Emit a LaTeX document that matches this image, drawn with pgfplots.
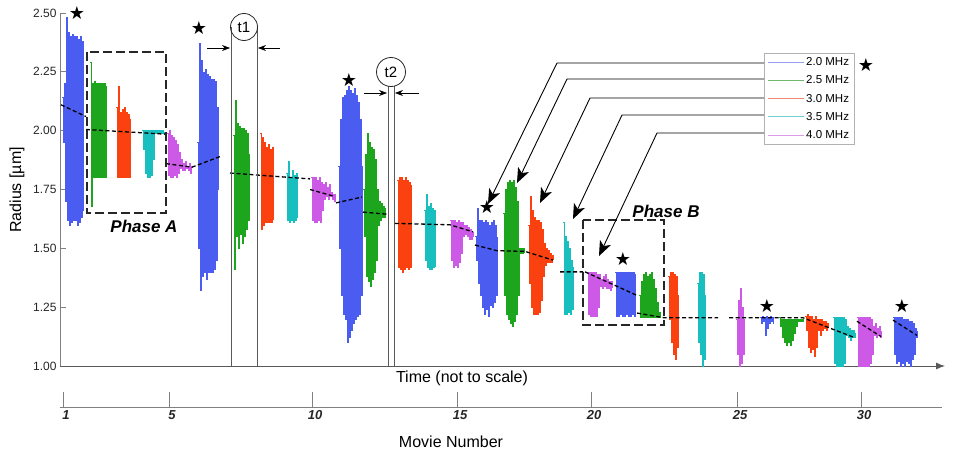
\documentclass[border=0pt]{standalone}
\usepackage{fontspec}
\setmainfont{Liberation Sans}
\newfontfamily\dejavu{DejaVu Sans}
\usepackage{pgfplots}
\pgfplotsset{compat=1.18}
\usetikzlibrary{arrows.meta}
\definecolor{cB}{RGB}{75,92,240}
\definecolor{cG}{RGB}{30,165,30}
\definecolor{cR}{RGB}{250,65,15}
\definecolor{cC}{RGB}{25,190,190}
\definecolor{cM}{RGB}{205,90,230}
\definecolor{lB}{RGB}{150,160,240}
\definecolor{lG}{RGB}{110,185,110}
\definecolor{lR}{RGB}{240,135,115}
\definecolor{lC}{RGB}{110,210,210}
\definecolor{lM}{RGB}{220,155,230}
\pgfplotsset{burst/.style={const plot, line width=0.6pt, line join=miter, forget plot}}
\begin{document}
\begin{tikzpicture}
\path[use as bounding box] (0,0) rectangle (954pt,451pt);
\begin{axis}[
  scale only axis, width=885pt, height=353pt, at={(60pt,85pt)}, anchor=south west,
  xmin=60, xmax=945, ymin=1, ymax=2.5,
  axis x line=bottom, axis y line=left,
  x axis line style={draw=gray!70!black, line width=0.9pt, -{Latex[length=9pt,width=7pt]}},
  y axis line style={draw=gray, line width=0.9pt, -},
  xtick=\empty,
  ytick={1,1.25,1.5,1.75,2,2.25,2.5},
  /pgf/number format/assume math mode=true,
  yticklabel style={/pgf/number format/.cd, fixed, fixed zerofill, precision=2, /tikz/.cd, font=\fontsize{12}{12}\selectfont, text=black!85},
  tick align=inside, major tick length=6pt, tick style={gray, line width=0.8pt},
  clip=false,
  legend image code/.code={\draw[#1, line width=0.9pt] (0pt,0pt) -- (36pt,0pt);},
  legend style={at={(axis description cs:0.7955,0.8867)}, anchor=north west, draw=gray!60, line width=0.6pt,
    font=\fontsize{11.5}{12}\selectfont, inner xsep=3pt, inner ysep=2.5pt, row sep=4.6pt, cells={anchor=west}},
]
% bursts
\addplot[burst,cB] coordinates {(62,2.14)(63,1.95)(64,2.20)(65,1.70)(66,2.48)(67,1.62)(68,2.42)(69,1.60)(70,2.40)(71,1.61)(72,2.41)(73,1.62)(74,2.40)(75,1.62)(76,2.40)(77,1.60)(78,2.39)(79,1.61)(80,2.40)(81,1.63)(82,2.38)(83,1.66)};
\addplot[burst,cG] coordinates {(90,2.29)(91,1.68)(92,2.20)(93,1.80)(94,2.21)(95,1.80)(96,2.20)(97,1.80)(98,2.20)(99,1.80)(100,2.20)(101,1.80)(102,2.20)(103,1.80)(104,2.20)(105,1.80)(106,2.19)};
\addplot[burst,cR] coordinates {(116,2.10)(117,1.80)(118,2.19)(119,1.80)(120,2.08)(121,1.80)(122,2.09)(123,1.80)(124,2.10)(125,1.80)(126,2.08)(127,1.80)(128,2.07)(129,1.80)(130,2.05)};
\addplot[burst,cC] coordinates {(142,2.00)(143,1.92)(144,2.00)(145,1.82)(146,2.00)(147,1.80)(148,2.00)(149,1.80)(150,2.00)(151,1.81)(152,2.00)(153,1.88)(154,2.00)(155,1.99)(156,2.00)(157,1.99)(158,2.00)(159,1.99)(160,2.00)(161,1.99)(162,2.00)(163,1.99)(164,1.995)(165,1.99)};
\addplot[burst,cM] coordinates {(167,1.99)(168,1.81)(169,2.00)(170,1.80)(171,1.98)(172,1.80)(173,1.97)(174,1.81)(175,1.96)(176,1.80)(177,1.94)(178,1.82)(179,1.91)(180,1.84)(181,1.88)(182,1.83)(183,1.86)(184,1.83)(185,1.87)(186,1.84)(187,1.85)(188,1.83)(189,1.86)(190,1.82)(191,1.85)(192,1.84)};
\addplot[burst,cB] coordinates {(197,1.95)(198,1.50)(199,2.37)(200,1.32)(201,2.30)(202,1.38)(203,2.25)(204,1.40)(205,2.26)(206,1.37)(207,2.24)(208,1.40)(209,2.23)(210,1.40)(211,2.22)(212,1.40)(213,2.22)(214,1.41)(215,2.21)(216,1.45)(217,2.10)(218,1.75)};
\addplot[burst,cG] coordinates {(233,1.98)(234,1.41)(235,2.13)(236,1.55)(237,2.03)(238,1.50)(239,2.02)(240,1.56)(241,2.01)(242,1.52)(243,2.01)(244,1.55)(245,2.00)(246,1.58)(247,1.99)(248,1.62)(249,1.90)};
\addplot[burst,cR] coordinates {(260,1.99)(261,1.58)(262,1.97)(263,1.60)(264,1.95)(265,1.61)(266,1.93)(267,1.61)(268,1.94)(269,1.61)(270,1.92)(271,1.61)(272,1.93)(273,1.62)};
\addplot[burst,cC] coordinates {(286,1.82)(287,1.62)(288,1.87)(289,1.61)(290,1.80)(291,1.62)(292,1.83)(293,1.61)(294,1.81)(295,1.62)(296,1.82)(297,1.63)};
\addplot[burst,cM] coordinates {(311,1.80)(312,1.62)(313,1.80)(314,1.61)(315,1.80)(316,1.61)(317,1.79)(318,1.62)(319,1.80)(320,1.61)(321,1.78)(322,1.66)(323,1.77)(324,1.71)(325,1.78)(326,1.72)(327,1.76)(328,1.71)(329,1.77)(330,1.72)(331,1.74)(332,1.71)(333,1.73)(334,1.70)(335,1.73)};
\addplot[burst,cB] coordinates {(338,1.85)(339,1.50)(340,2.05)(341,1.30)(342,2.14)(343,1.22)(344,2.15)(345,1.20)(346,2.17)(347,1.10)(348,2.19)(349,1.12)(350,2.17)(351,1.15)(352,2.16)(353,1.18)(354,2.18)(355,1.20)(356,2.15)(357,1.21)(358,2.12)(359,1.22)(360,2.05)(361,1.30)(362,1.85)};
\addplot[burst,cG] coordinates {(363,1.75)(364,1.55)(365,1.90)(366,1.38)(367,1.99)(368,1.36)(369,1.95)(370,1.34)(371,1.93)(372,1.37)(373,1.92)(374,1.40)(375,1.88)(376,1.45)(377,1.75)(378,1.60)(379,1.70)(380,1.62)(381,1.69)(382,1.63)(383,1.68)(384,1.63)(385,1.67)};
\addplot[burst,cR] coordinates {(397,1.79)(398,1.42)(399,1.80)(400,1.41)(401,1.80)(402,1.40)(403,1.79)(404,1.41)(405,1.80)(406,1.42)(407,1.79)(408,1.41)(409,1.78)(410,1.42)(411,1.77)};
\addplot[burst,cC] coordinates {(424,1.66)(425,1.45)(426,1.73)(427,1.42)(428,1.68)(429,1.41)(430,1.69)(431,1.41)(432,1.67)(433,1.42)(434,1.66)(435,1.42)};
\addplot[burst,cM] coordinates {(450,1.62)(451,1.45)(452,1.62)(453,1.42)(454,1.62)(455,1.43)(456,1.61)(457,1.42)(458,1.62)(459,1.44)(460,1.61)(461,1.48)(462,1.61)(463,1.55)(464,1.60)(465,1.56)(466,1.60)(467,1.55)(468,1.59)(469,1.54)(470,1.58)(471,1.54)(472,1.57)(473,1.55)};
\addplot[burst,cB] coordinates {(475,1.55)(476,1.45)(477,1.67)(478,1.35)(479,1.62)(480,1.30)(481,1.62)(482,1.25)(483,1.61)(484,1.22)(485,1.62)(486,1.24)(487,1.61)(488,1.21)(489,1.60)(490,1.26)(491,1.61)(492,1.25)(493,1.62)(494,1.27)(495,1.60)(496,1.30)(497,1.55)};
\addplot[burst,cG] coordinates {(503,1.65)(504,1.30)(505,1.75)(506,1.22)(507,1.78)(508,1.20)(509,1.79)(510,1.18)(511,1.78)(512,1.17)(513,1.79)(514,1.19)(515,1.76)(516,1.22)(517,1.70)(518,1.30)(519,1.50)(520,1.48)(521,1.50)(522,1.48)(523,1.50)(524,1.48)};
\addplot[burst,cR] coordinates {(528,1.60)(529,1.35)(530,1.72)(531,1.25)(532,1.66)(533,1.22)(534,1.63)(535,1.22)(536,1.62)(537,1.22)(538,1.62)(539,1.23)(540,1.61)(541,1.28)(542,1.58)(543,1.38)(544,1.52)(545,1.43)(546,1.50)(547,1.44)(548,1.49)(549,1.44)(550,1.48)(551,1.44)(552,1.47)(553,1.45)};
\addplot[burst,cC] coordinates {(563,1.61)(564,1.22)(565,1.55)(566,1.22)(567,1.53)(568,1.23)(569,1.50)(570,1.22)(571,1.45)(572,1.24)(573,1.42)};
\addplot[burst,cM] coordinates {(587,1.40)(588,1.22)(589,1.40)(590,1.21)(591,1.40)(592,1.21)(593,1.40)(594,1.21)(595,1.40)(596,1.21)(597,1.39)(598,1.25)(599,1.39)(600,1.34)(601,1.37)(602,1.33)(603,1.38)(604,1.34)(605,1.39)(606,1.33)(607,1.37)(608,1.33)(609,1.36)(610,1.32)(611,1.36)(612,1.33)};
\addplot[burst,cB] coordinates {(615,1.40)(616,1.21)(617,1.40)(618,1.21)(619,1.40)(620,1.22)(621,1.40)(622,1.21)(623,1.40)(624,1.21)(625,1.40)(626,1.22)(627,1.40)(628,1.21)(629,1.40)(630,1.21)(631,1.40)(632,1.22)(633,1.40)(634,1.21)(635,1.39)};
\addplot[burst,cG] coordinates {(639,1.30)(640,1.205)(641,1.36)(642,1.205)(643,1.39)(644,1.205)(645,1.40)(646,1.205)(647,1.38)(648,1.205)(649,1.39)(650,1.205)(651,1.40)(652,1.205)(653,1.37)(654,1.205)(655,1.33)(656,1.205)(657,1.27)(658,1.205)(659,1.23)(660,1.205)};
\addplot[burst,cR] coordinates {(668,1.38)(669,1.20)(670,1.40)(671,1.10)(672,1.40)(673,1.05)(674,1.39)(675,1.03)(676,1.38)(677,1.08)(678,1.30)};
\addplot[burst,cC] coordinates {(697,1.35)(698,1.10)(699,1.40)(700,1.05)(701,1.40)(702,1.00)(703,1.39)(704,1.03)(705,1.30)};
\addplot[burst,cM] coordinates {(736,1.20)(737,1.05)(738,1.28)(739,1.00)(740,1.33)(741,1.01)(742,1.25)(743,1.05)(744,1.20)};
\addplot[burst,cB] coordinates {(760,1.205)(761,1.18)(762,1.21)(763,1.19)(764,1.205)(765,1.13)(766,1.21)(767,1.16)(768,1.205)(769,1.18)(770,1.21)(771,1.19)(772,1.205)(773,1.18)};
\addplot[burst,cG] coordinates {(779,1.205)(780,1.17)(781,1.20)(782,1.12)(783,1.20)(784,1.10)(785,1.20)(786,1.09)(787,1.20)(788,1.10)(789,1.20)(790,1.09)(791,1.20)(792,1.11)(793,1.20)(794,1.14)(795,1.20)(796,1.17)(797,1.20)(798,1.19)(799,1.20)(800,1.19)(801,1.20)(802,1.19)(803,1.20)};
\addplot[burst,cR] coordinates {(805,1.21)(806,1.15)(807,1.22)(808,1.08)(809,1.21)(810,1.06)(811,1.21)(812,1.07)(813,1.20)(814,1.04)(815,1.21)(816,1.08)(817,1.20)(818,1.15)(819,1.20)(820,1.13)(821,1.20)(822,1.15)(823,1.19)(824,1.16)(825,1.19)(826,1.15)(827,1.18)(828,1.16)};
\addplot[burst,cC] coordinates {(833,1.205)(834,1.01)(835,1.205)(836,1.00)(837,1.205)(838,1.00)(839,1.205)(840,1.00)(841,1.205)(842,1.00)(843,1.205)(844,1.01)(845,1.20)(846,1.13)(847,1.17)(848,1.12)(849,1.16)(850,1.11)(851,1.15)(852,1.12)(853,1.15)(854,1.12)(855,1.14)};
\addplot[burst,cM] coordinates {(857,1.205)(858,1.00)(859,1.205)(860,1.00)(861,1.205)(862,1.00)(863,1.205)(864,1.00)(865,1.205)(866,1.00)(867,1.205)(868,1.00)(869,1.205)(870,1.01)(871,1.20)(872,1.05)(873,1.17)(874,1.13)(875,1.18)(876,1.12)(877,1.16)(878,1.13)(879,1.17)(880,1.12)(881,1.15)};
\addplot[burst,cB] coordinates {(893,1.205)(894,1.05)(895,1.205)(896,1.01)(897,1.205)(898,1.02)(899,1.205)(900,1.00)(901,1.205)(902,1.01)(903,1.20)(904,1.00)(905,1.20)(906,1.02)(907,1.20)(908,1.01)(909,1.19)(910,1.00)(911,1.19)(912,1.03)(913,1.18)(914,1.05)(915,1.16)(916,1.12)(917,1.15)};
% mean radius (dashed)
\addplot[black, line width=1.3pt, dash pattern=on 4pt off 2.5pt, unbounded coords=jump, forget plot] coordinates {
(61,2.11)(86,2.06)(86,nan)
(86,2.005)(166,1.985)(166,nan)
(166,1.86)(192,1.845)(220,1.89)(220,nan)
(230,1.82)(310,1.795)(310,nan)
(310,1.75)(335,1.72)(335,nan)
(336,1.693)(362,1.718)(362,nan)
(363,1.654)(387,1.645)(387,nan)
(395,1.606)(450,1.60)(473,1.57)(473,nan)
(475,1.514)(497,1.49)(525,1.487)(553,1.45)(553,nan)
(560,1.40)(583,1.40)(583,nan)
(585,1.40)(637,1.30)(637,nan)
(637,1.225)(664,1.205)(718,1.205)(718,nan)
(729,1.205)(803,1.205)(855,1.12)(855,nan)
(857,1.19)(881,1.125)(881,nan)
(893,1.195)(917,1.13)};
% stars
\addplot[draw=none, mark=none, forget plot, nodes near coords={\dejavu\fontsize{18}{18}\selectfont ★}, nodes near coords align={anchor=center}, every node near coord/.append style={inner sep=0pt}] coordinates {(77,2.50)(199,2.436)(349,2.215)(487,1.676)(623,1.455)(767,1.255)(902,1.255)(866,2.279)};
\addlegendimage{lB}\addlegendentry{2.0 MHz}
\addlegendimage{lG}\addlegendentry{2.5 MHz}
\addlegendimage{lR}\addlegendentry{3.0 MHz}
\addlegendimage{lC}\addlegendentry{3.5 MHz}
\addlegendimage{lM}\addlegendentry{4.0 MHz}
\end{axis}
% movie number axis
\begin{axis}[
  scale only axis, width=882pt, height=20pt, at={(60pt,44pt)}, anchor=south west,
  xmin=60, xmax=942, ymin=0, ymax=1,
  axis x line=bottom, axis y line=none,
  x axis line style={-, draw=gray, line width=0.9pt},
  xtick={63,169,312,457,591,737,861},
  xticklabels={1,5,10,15,20,25,30},
  tick align=inside, major tick length=15pt, tick style={gray, line width=0.9pt},
  xticklabel style={font=\bfseries\itshape\fontsize{13}{13}\selectfont, xshift=3pt, text=black!85},
]
\addplot[draw=none, forget plot] coordinates {(60,0)(942,0)};
\end{axis}
% annotations in pixel coordinates
\begin{scope}[shift={(0pt,451pt)}, x=1pt, y=-1pt]
\node[font=\fontsize{16}{16}\selectfont] at (462,378) {Time (not to scale)};
\node[font=\fontsize{16}{16}\selectfont] at (451,442) {Movie Number};
\node[font=\fontsize{16}{16}\selectfont, rotate=90] at (17,190) {Radius [µm]};
% t1
\draw[gray!70!black, line width=0.9pt] (231,27) -- (231,366) (257,27) -- (257,366);
\draw[black!85, line width=0.8pt] (244,27) circle (13.5pt);
\node[font=\fontsize{15}{15}\selectfont] at (244,27) {t1};
\draw[-{Stealth[length=8pt,width=6pt]}, line width=0.7pt] (207,48) -- (230,48);
\draw[-{Stealth[length=8pt,width=6pt]}, line width=0.7pt] (280,48) -- (258,48);
% t2
\draw[gray!70!black, line width=0.9pt] (388,86) -- (388,366) (394,86) -- (394,366);
\draw[black!85, line width=0.8pt] (391,72) circle (14.5pt);
\node[font=\fontsize{15}{15}\selectfont] at (391,72) {t2};
\draw[-{Stealth[length=8pt,width=6pt]}, line width=0.7pt] (364,93) -- (387,93);
\draw[-{Stealth[length=8pt,width=6pt]}, line width=0.7pt] (419,93) -- (395,93);
% phase boxes
\draw[black!85, line width=1.5pt, dash pattern=on 9pt off 4pt] (87,52) rectangle (166,213);
\node[font=\bfseries\itshape\fontsize{17}{17}\selectfont] at (144,226) {Phase A};
\draw[black!85, line width=1.5pt, dash pattern=on 9pt off 4pt] (583,220) rectangle (664,325);
\node[font=\bfseries\itshape\fontsize{17}{17}\selectfont] at (666,211) {Phase B};
% legend arrows
\begin{scope}[line width=0.9pt, -{Stealth[length=15pt,width=12pt,inset=4pt]}]
\draw (764,63) -- (557,63) -- (488,204);
\draw (764,79) -- (567,79) -- (517,183);
\draw (764,98) -- (590,98) -- (540,203);
\draw (764,115) -- (622,115) -- (573,219);
\draw (764,133) -- (657,133) -- (599,256);
\end{scope}
\end{scope}
\end{tikzpicture}
\end{document}
